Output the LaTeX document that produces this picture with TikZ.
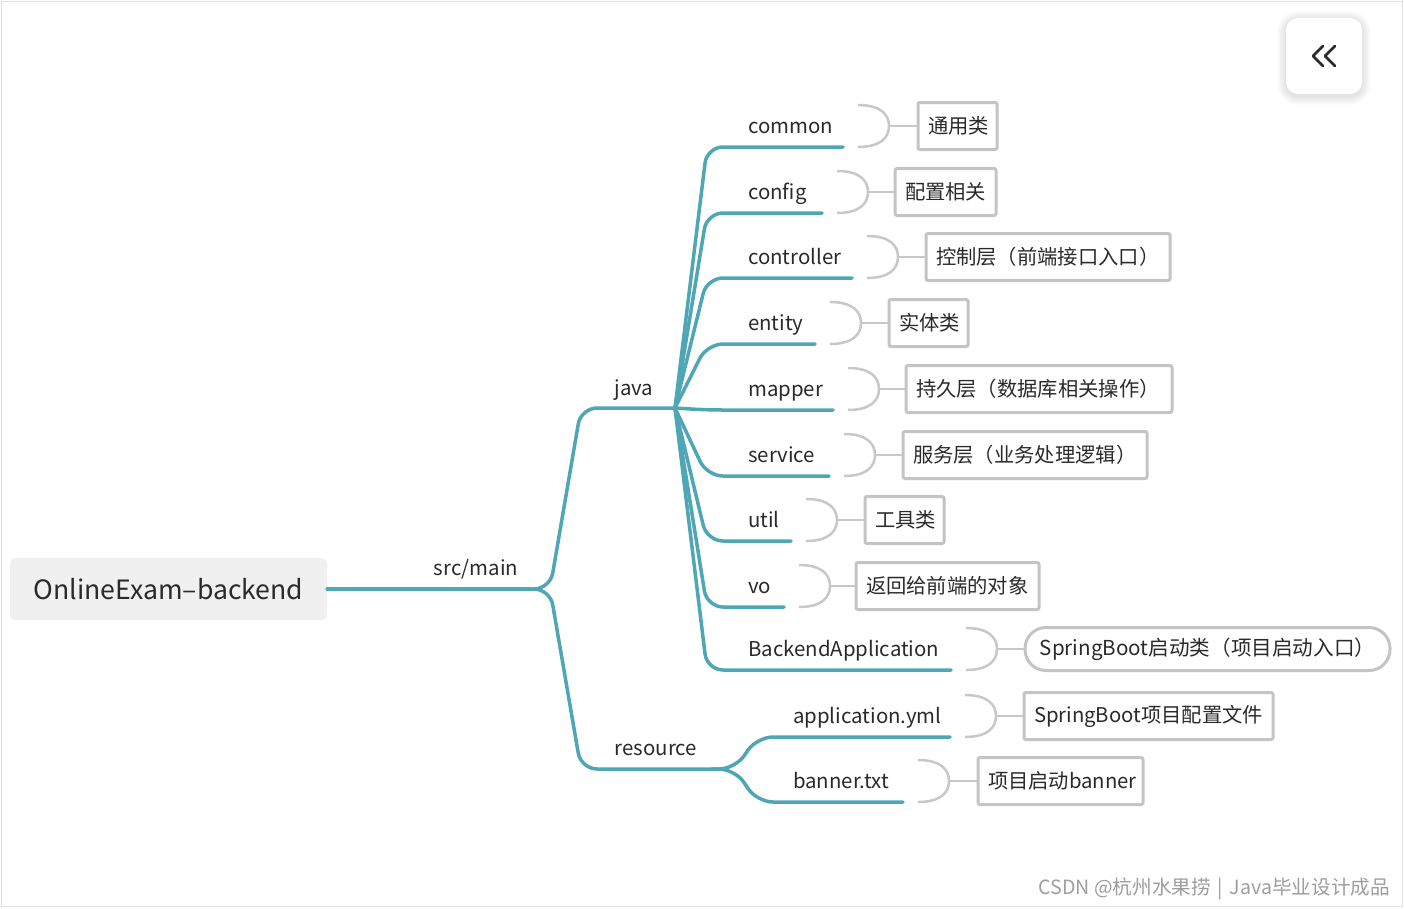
\documentclass[tikz,border=0pt]{standalone}
\usepackage{fontspec}
\setmainfont{Noto Sans CJK SC}
\definecolor{tealline}{HTML}{4FA7B5}
\definecolor{bracegray}{HTML}{C8C8C8}
\definecolor{boxgray}{HTML}{C4C4C4}
\definecolor{txt}{HTML}{2A2A2A}
\definecolor{rootfill}{HTML}{F0F0F0}
\begin{document}
\begin{tikzpicture}[x=1pt,y=-1pt,
  branch/.style={draw=tealline, line width=3.5pt, line cap=round, rounded corners=16pt},
  bracec/.style={draw=bracegray, line width=2.5pt},
  lbl/.style={anchor=base west, inner sep=0pt, font=\fontsize{20.4}{21}\selectfont, text=txt},
  mid/.style={anchor=base, inner sep=0pt, font=\fontsize{20.4}{21}\selectfont, text=txt},
  leafbox/.style={draw=boxgray, line width=3pt, rounded corners=2pt, minimum height=47pt, inner xsep=10pt, inner ysep=0pt, anchor=west, align=left, font=\fontsize{20.3}{21}\selectfont, text=txt},
  pillbox/.style={draw=boxgray, line width=3pt, rounded corners=21pt, minimum height=43pt, inner sep=0pt, anchor=west, font=\fontsize{20.6}{21}\selectfont, text=txt}
]
\useasboundingbox (0,0) rectangle (1404,908);
\fill[white] (0,0) rectangle (1404,908);
\draw[black!12, line width=1pt] (1.5,1.5) rectangle (1402.5,906.5);

% root
\node[fill=rootfill, rounded corners=5pt, minimum width=317pt, minimum height=62pt, inner sep=0pt,
      font=\fontsize{26.6}{27}\selectfont, text=txt] (root) at (168.5,589) {OnlineExam–backend};

% junctions
\coordinate (srcj) at (530,589);
\coordinate (jv) at (675,408);
\coordinate (rj) at (712,769);

\draw[branch] (root.east) -- (srcj);
\node[mid] (srcmain) at (476,575) {src/main};
\draw[branch] (srcj) -- (550,589) -- (581,408) -- (jv);
\node[mid] (java) at (634,395) {java};
\draw[branch] (srcj) -- (550,589) -- (581,769) -- (rj);
\node[mid] (resource) at (656,755) {resource};

% java children
\foreach \name/\cy/\lend/\bs/\bl/\br/\txt in {
  common/126/843/858/915/997/通用类,
  config/192/822/837/892/996/配置相关,
  controller/257/852/867/923/1170/控制层（前端接口入口）,
  entity/323/815/830/886/968/实体类,
  mapper/389/833/848/903/1172/持久层（数据库相关操作）,
  service/455/829/844/900/1147/服务层（业务处理逻辑）,
  util/520/791/806/862/944/工具类,
  vo/586/784/799/853/1039/返回给前端的对象}
{
  \coordinate (le-\name) at (\lend,\cy+21);
  \draw[branch] (jv) -- (707,\cy+21) -- (le-\name);
  \node[lbl] (l-\name) at (748,\cy+7) {\name};
  \draw[bracec] (\bs,\cy-21) .. controls (\bs+22,\cy-21) and (\bs+31,\cy-12) .. (\bs+31,\cy)
     .. controls (\bs+31,\cy+12) and (\bs+22,\cy+21) .. (\bs,\cy+21);
  \coordinate (bt-\name) at (\bs+31,\cy);
  \node[leafbox, text width={\br-\bl-23}] (b-\name) at (\bl+1.5,\cy) {\txt};
  \draw[bracec] (bt-\name) -- (b-\name.west);
}

% BackendApplication
\coordinate (le-ba) at (951,670);
\draw[branch] (jv) -- (707,670) -- (le-ba);
\node[lbl] (l-ba) at (748,656) {BackendApplication};
\draw[bracec] (966,628) .. controls (988,628) and (997,637) .. (997,649)
   .. controls (997,661) and (988,670) .. (966,670);
\coordinate (bt-ba) at (997,649);
\node[pillbox, minimum width=365pt] (b-ba) at (1023.5,649) {SpringBoot启动类（项目启动入口）};
\draw[bracec] (bt-ba) -- (b-ba.west);

% resource children
\foreach \id/\name/\cy/\lend/\bs/\bl/\br/\txt in {
  appyml/application.yml/716/950/965/1021/1273/SpringBoot项目配置文件,
  banner/banner.txt/781/903/918/975/1143/项目启动banner}
{
  \coordinate (le-\id) at (\lend,\cy+21);
  \draw[branch] (rj) -- (735,769) -- (757,\cy+21) -- (le-\id);
  \node[lbl] (l-\id) at (793,\cy+7) {\name};
  \draw[bracec] (\bs,\cy-21) .. controls (\bs+22,\cy-21) and (\bs+31,\cy-12) .. (\bs+31,\cy)
     .. controls (\bs+31,\cy+12) and (\bs+22,\cy+21) .. (\bs,\cy+21);
  \coordinate (bt-\id) at (\bs+31,\cy);
  \node[leafbox, text width={\br-\bl-23}] (b-\id) at (\bl+1.5,\cy) {\txt};
  \draw[bracec] (bt-\id) -- (b-\id.west);
}

% collapse button
\foreach \s in {1,...,9}
  \fill[black, opacity=0.01, rounded corners={12+\s}] (1286-\s,20-\s) rectangle (1362+\s,96+\s);
\node[fill=white, rounded corners=12pt, minimum width=76pt, minimum height=76pt, inner sep=0pt] (btn) at (1324,56) {};
\coordinate (c1) at (btn.center);
\draw[txt, line width=2.6pt, line cap=round, line join=round] ([xshift=-1pt,yshift=-10pt]c1) -- ([xshift=-11pt]c1) -- ([xshift=-1pt,yshift=10pt]c1);
\draw[txt, line width=2.6pt, line cap=round, line join=round] ([xshift=11pt,yshift=-10pt]c1) -- ([xshift=1pt]c1) -- ([xshift=11pt,yshift=10pt]c1);

% watermark
\node[anchor=base east, inner sep=0pt, font=\fontsize{19.6}{20}\selectfont, text=black!38] (wm) at (1390,894) {CSDN @杭州水果捞\hspace{0.35em}|\hspace{0.35em}Java毕业设计成品};
\end{tikzpicture}
\end{document}
